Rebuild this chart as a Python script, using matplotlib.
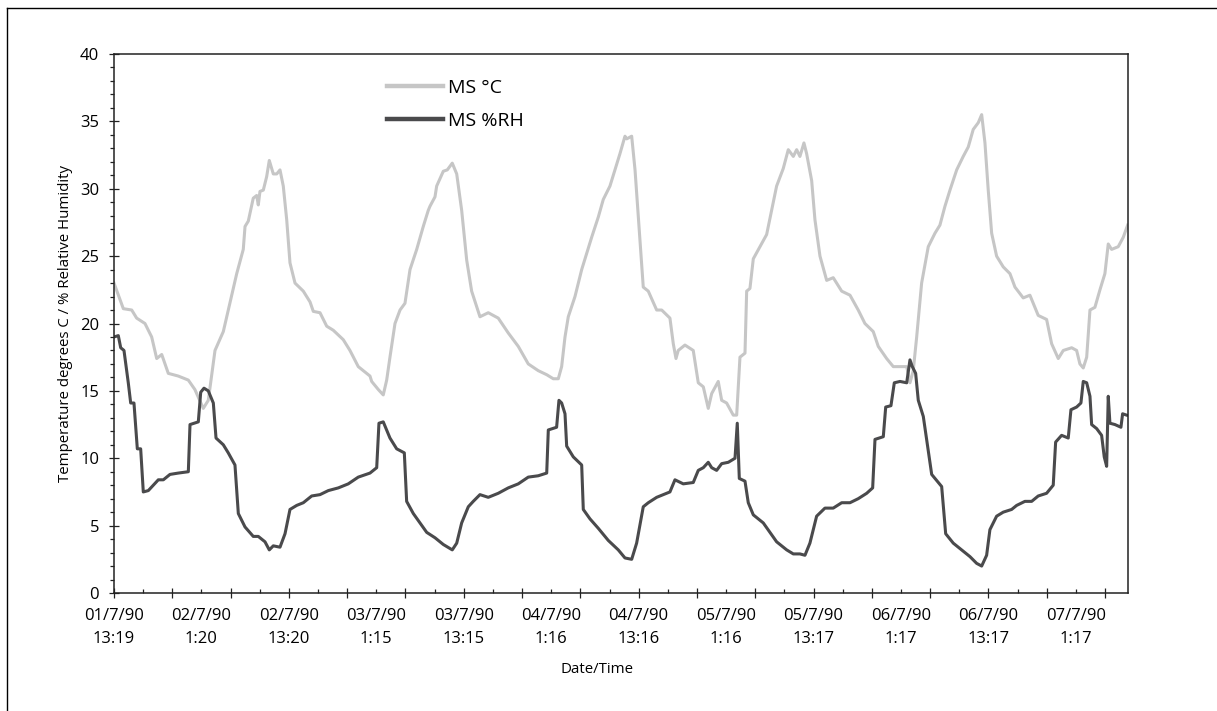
import matplotlib
matplotlib.use("Agg")
import matplotlib.pyplot as plt
from matplotlib.lines import Line2D
from matplotlib.ticker import MultipleLocator

plt.rcParams['font.family'] = ['Open Sans', 'DejaVu Sans']

# hours since 01/7/90 13:19
temp_hours = [0.0, 1.28, 2.43, 3.11, 4.25, 5.17, 5.86, 6.55, 7.45, 8.82, 10.2, 11.1, 12.25, 12.94,
              13.86, 15.0, 15.68, 16.84, 17.74, 17.98, 18.43, 19.11, 19.58, 19.8, 20.03, 20.49, 20.95,
              21.31, 21.86, 22.33, 22.78, 23.23, 23.7, 24.15, 24.84, 25.98, 26.9, 27.35, 28.27, 29.19,
              30.09, 31.46, 32.38, 33.52, 35.13, 35.36, 36.27, 36.95, 37.42, 37.87, 38.56, 39.25, 39.93,
              40.62, 41.54, 42.44, 43.13, 43.36, 44.05, 44.28, 45.19, 45.74, 46.42, 47.03, 47.71, 48.4,
              49.08, 50.22, 51.36, 52.73, 54.1, 55.48, 56.85, 58.22, 59.38, 60.28, 60.97, 61.43, 61.89,
              62.34, 63.26, 64.18, 64.86, 65.55, 66.46, 67.14, 68.06, 68.75, 69.43, 70.12, 70.35, 71.04,
              71.5, 71.95, 72.63, 73.32, 74.47, 75.16, 76.29, 76.75, 77.12, 77.43, 78.35, 79.49, 80.18,
              80.87, 81.55, 82.02, 82.92, 83.39, 84.07, 84.98, 85.45, 85.9, 86.59, 86.82, 87.27, 87.73,
              88.64, 89.56, 90.25, 90.93, 91.84, 92.53, 93.22, 93.68, 94.13, 94.68, 95.05, 95.74, 96.19,
              96.88, 97.8, 98.7, 99.86, 101.0, 102.13, 103.05, 104.19, 104.88, 106.03, 106.94, 107.86,
              108.78, 109.23, 109.68, 110.15, 110.83, 111.74, 112.66, 113.34, 114.03, 114.72, 115.64,
              116.54, 117.23, 117.91, 118.6, 119.07, 119.52, 119.97, 120.44, 121.12, 122.03, 122.95,
              123.64, 124.77, 125.69, 126.83, 127.98, 128.67, 129.58, 130.27, 131.42, 132.1, 132.55,
              133.01, 133.48, 133.93, 134.61, 135.3, 135.98, 136.44, 136.9, 137.81, 138.5, 139.1]
temp_values = [23.0, 21.1, 21.0, 20.4, 20.0, 19.0, 17.4, 17.7, 16.3, 16.1, 15.8, 15.1, 13.7, 14.3,
               18.0, 19.4, 21.0, 23.7, 25.5, 27.2, 27.6, 29.3, 29.5, 28.8, 29.8, 29.9, 30.9,
               32.1, 31.1, 31.1, 31.4, 30.2, 27.7, 24.5, 23.0, 22.4, 21.6, 20.9, 20.8, 19.8,
               19.5, 18.8, 18.0, 16.8, 16.1, 15.7, 15.1, 14.7, 15.8, 17.5, 20.0, 21.0, 21.5,
               24.0, 25.5, 27.2, 28.4, 28.7, 29.4, 30.2, 31.3, 31.4, 31.9, 31.1, 28.4, 24.7,
               22.4, 20.5, 20.8, 20.4, 19.3, 18.3, 17.0, 16.5, 16.2, 15.9, 15.9, 16.8, 19.0,
               20.5, 22.0, 24.0, 25.2, 26.4, 27.9, 29.2, 30.2, 31.4, 32.6, 33.9, 33.7, 33.9,
               31.4, 27.9, 22.7, 22.4, 21.0, 21.0, 20.4, 18.5, 17.4, 18.0, 18.4, 18.0, 15.6,
               15.3, 13.7, 14.8, 15.7, 14.3, 14.1, 13.2, 13.2, 17.5, 17.8, 22.4, 22.6, 24.8,
               25.7, 26.6, 28.4, 30.2, 31.5, 32.9, 32.4, 32.9, 32.4, 33.4, 32.6, 30.6, 27.7,
               25.0, 23.2, 23.4, 22.4, 22.1, 21.0, 20.0, 19.4, 18.3, 17.4, 16.8, 16.8,
               16.8, 15.6, 16.5, 19.0, 23.0, 25.7, 26.7, 27.3, 28.7, 29.9, 31.4,
               32.4, 33.1, 34.4, 34.9, 35.5, 33.4, 29.9, 26.7, 25.0, 24.2, 23.7,
               22.7, 21.9, 22.1, 20.6, 20.3, 18.5, 17.4, 18.0, 18.2, 18.0, 17.0,
               16.7, 17.5, 21.0, 21.2, 22.5, 23.7, 25.9, 25.5, 25.7, 26.4, 27.3]

rh_hours = [0.0, 0.59, 0.92, 1.37, 1.96, 2.29, 2.74, 3.2, 3.66, 4.02, 4.71, 5.39, 6.08, 6.77, 7.68,
            8.82, 10.2, 10.43, 11.57, 11.9, 12.35, 12.94, 13.63, 14.0, 15.0, 15.68, 16.6, 17.06, 17.98,
            19.11, 19.8, 20.72, 21.31, 21.86, 22.78, 23.47, 24.15, 25.07, 25.98, 27.13, 28.27, 29.41,
            30.78, 32.15, 33.52, 35.13, 36.05, 36.36, 36.95, 37.87, 38.79, 39.84, 40.16, 41.07, 41.99,
            42.91, 44.05, 45.19, 46.42, 47.03, 47.71, 48.62, 49.3, 50.22, 51.36, 52.73, 54.1, 55.48,
            56.85, 58.22, 59.38, 59.6, 60.74, 61.06, 61.43, 61.89, 62.12, 63.03, 64.18, 64.4, 65.32,
            66.46, 67.83, 69.2, 70.12, 71.04, 71.72, 72.63, 73.32, 74.47, 75.38, 76.29, 76.98, 78.12,
            79.49, 80.18, 80.87, 81.55, 82.02, 82.7, 83.39, 84.3, 85.22, 85.53, 85.81, 86.59, 87.04,
            87.73, 89.1, 90.02, 90.93, 92.31, 93.22, 94.13, 94.82, 95.5, 96.42, 97.56, 98.7, 99.86,
            101.0, 102.13, 103.29, 104.11, 104.43, 105.57, 105.9, 106.62, 107.08, 107.86, 108.78,
            109.23, 109.55, 110.01, 110.37, 111.06, 111.52, 112.21, 113.58, 114.13, 115.17, 116.32,
            117.46, 118.38, 119.07, 119.75, 120.2, 121.12, 122.03, 123.18, 123.87, 125.0, 125.93,
            126.83, 127.98, 128.89, 129.22, 130.04, 130.95, 131.32, 132.1, 132.69, 133.01, 133.48,
            133.93, 134.16, 134.85, 135.53, 135.89, 136.22, 136.44, 136.67, 137.36, 138.18, 138.41,
            138.96]
rh_values = [19.0, 19.1, 18.2, 18.0, 15.6, 14.1, 14.1, 10.7, 10.7, 7.5, 7.6, 8.0, 8.4, 8.4, 8.8,
             8.9, 9.0, 12.5, 12.7, 14.9, 15.2, 15.0, 14.1, 11.5, 11.0, 10.4, 9.5, 5.9, 4.9,
             4.2, 4.2, 3.8, 3.2, 3.5, 3.4, 4.4, 6.2, 6.5, 6.7, 7.2, 7.3, 7.6,
             7.8, 8.1, 8.6, 8.9, 9.3, 12.6, 12.7, 11.5, 10.7, 10.4, 6.8, 5.9, 5.2,
             4.5, 4.1, 3.6, 3.2, 3.7, 5.2, 6.4, 6.8, 7.3, 7.1, 7.4, 7.8, 8.1,
             8.6, 8.7, 8.9, 12.1, 12.3, 14.3, 14.1, 13.3, 10.9, 10.1, 9.5, 6.2, 5.5,
             4.8, 3.9, 3.2, 2.6, 2.5, 3.7, 6.4, 6.7, 7.1, 7.3, 7.5, 8.4, 8.1,
             8.2, 9.1, 9.3, 9.7, 9.3, 9.1, 9.6, 9.7, 10.0, 12.6, 8.5, 8.3, 6.7,
             5.8, 5.2, 4.5, 3.8, 3.2, 2.9, 2.9, 2.8, 3.7, 5.7, 6.3, 6.3, 6.7,
             6.7, 7.0, 7.4, 7.8, 11.4, 11.6, 13.8, 13.9, 15.6, 15.7, 15.6,
             17.3, 16.8, 16.3, 14.3, 13.1, 11.4, 8.8, 7.9, 4.4, 3.7, 3.2,
             2.7, 2.2, 2.0, 2.8, 4.7, 5.7, 6.0, 6.2, 6.5, 6.8, 6.8,
             7.2, 7.4, 8.0, 11.2, 11.7, 11.5, 13.6, 13.8, 14.1, 15.7, 15.6,
             14.6, 12.5, 12.2, 11.7, 10.1, 9.4, 14.6, 12.6, 12.5, 12.3, 13.3,
             13.2]

tick_labels = ["01/7/90\n13:19", "02/7/90\n1:20", "02/7/90\n13:20", "03/7/90\n1:15",
               "03/7/90\n13:15", "04/7/90\n1:16", "04/7/90\n13:16", "05/7/90\n1:16",
               "05/7/90\n13:17", "06/7/90\n1:17", "06/7/90\n13:17", "07/7/90\n1:17"]
label_hours = [12 * i for i in range(len(tick_labels))]

W, H = 1217, 711
fig = plt.figure(figsize=(W / 100, H / 100), dpi=100)
ax = fig.add_axes([114 / W, 1 - 593 / H, (1128 - 114) / W, (593 - 54) / H])

ax.plot(temp_hours, temp_values, color='#c6c6c6', lw=2.2, label='MS °C', solid_joinstyle='round')
ax.plot(rh_hours, rh_values, color='#4a4a4c', lw=2.2, label='MS %RH', solid_joinstyle='round')

ax.set_xlim(0, 139.15)
ax.set_ylim(0, 40)

for s in ax.spines.values():
    s.set_color('#222222')
    s.set_linewidth(1.1)

ax.yaxis.set_major_locator(MultipleLocator(5))
ax.yaxis.set_minor_locator(MultipleLocator(1))
ax.tick_params(axis='y', which='major', direction='inout', length=7.5, width=0.9,
               labelsize=12, pad=7, colors='#222222', labelcolor='black')
ax.tick_params(axis='y', which='minor', direction='out', length=3.2, width=0.9, colors='#222222')

ax.xaxis.set_major_locator(MultipleLocator(8))
ax.xaxis.set_minor_locator(MultipleLocator(4))
ax.tick_params(axis='x', which='major', direction='inout', length=7.5, width=0.9,
               labelbottom=False, colors='#222222')
ax.tick_params(axis='x', which='minor', direction='in', length=3.2, width=0.9, colors='#222222')

sec = ax.secondary_xaxis('bottom')
sec.set_xticks(label_hours, tick_labels)
sec.tick_params(length=0, pad=11, labelsize=12)
sec.spines['bottom'].set_visible(False)
for t in sec.get_xticklabels():
    t.set_linespacing(1.55)

ax.set_ylabel('Temperature degrees C / % Relative Humidity', fontsize=10.8)
ax.yaxis.set_label_coords(-41 / 1014, 0.5)
ax.set_xlabel('Date/Time', fontsize=10.8)
ax.xaxis.set_label_coords((597 - 114) / 1014, (593 - 662) / 539)

leg = ax.legend(loc='upper left', bbox_to_anchor=(387 / W, 1 - 79 / H),
                bbox_transform=fig.transFigure, frameon=False, fontsize=14,
                handlelength=2.9, handletextpad=0.25, labelspacing=0.75,
                borderpad=0, borderaxespad=0)
for line in leg.get_lines():
    line.set_linewidth(3.2)

# figure border (left and top edges visible)
fig.add_artist(Line2D([7 / W, 7 / W], [0, 1 - 8 / H], transform=fig.transFigure,
                      color='black', lw=1.0))
fig.add_artist(Line2D([7 / W, 1], [1 - 8 / H, 1 - 8 / H], transform=fig.transFigure,
                      color='black', lw=1.0))

fig.savefig('out.png', dpi=100)
